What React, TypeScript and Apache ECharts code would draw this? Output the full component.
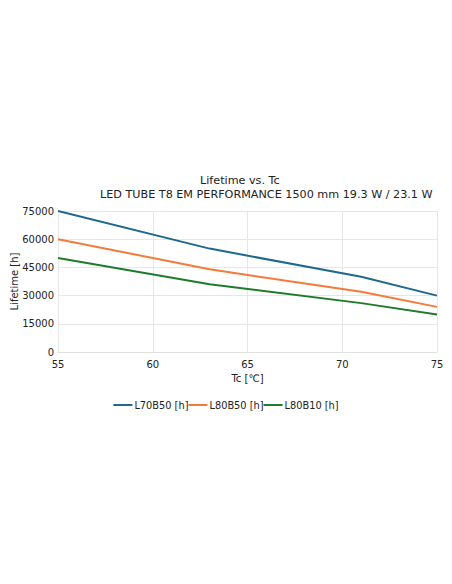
import React, { useEffect, useRef } from 'react';
import * as echarts from 'echarts';

const TC_VALUES = [55, 63, 71, 75];
const L70B50 = [75000, 55000, 40000, 30000];
const L80B50 = [60000, 44000, 32000, 24000];
const L80B10 = [50000, 36000, 26000, 20000];
const SERIES_NAMES = ['L70B50 [h]', 'L80B50 [h]', 'L80B10 [h]'];
const COLORS = ['#1f6a8c', '#f47a3a', '#1f7a2c'];

const FONT = 'DejaVu Sans';

export default function App() {
  const chartRef = useRef<HTMLDivElement>(null);

  useEffect(() => {
    document.body.style.margin = '0';
    if (!chartRef.current) return;
    const chart = echarts.init(chartRef.current, undefined, { renderer: 'svg' });

    const allSeries = [L70B50, L80B50, L80B10];

    chart.setOption({
      animation: false,
      textStyle: { fontFamily: FONT },
      title: [
        {
          text: 'Lifetime vs. Tc',
          left: 195,
          top: 170,
          textStyle: { fontFamily: FONT, fontSize: 11.2, fontWeight: 'normal', color: '#222' },
        },
        {
          text: 'LED TUBE T8 EM PERFORMANCE 1500 mm 19.3 W / 23.1 W',
          left: 95,
          top: 184,
          textStyle: { fontFamily: FONT, fontSize: 11.2, fontWeight: 'normal', color: '#222' },
        },
      ],
      legend: {
        top: 395,
        left: 'center',
        itemGap: 0,
        itemWidth: 19,
        itemHeight: 2,
        icon: 'rect',
        textStyle: { fontFamily: FONT, fontSize: 9.8, color: '#222', padding: [0, 0, 0, -3] },
        data: SERIES_NAMES,
      },
      grid: { left: 58, right: 15, top: 211, bottom: 232, outerBoundsMode: 'none' },
      xAxis: {
        type: 'value',
        min: 55,
        max: 75,
        interval: 5,
        name: 'Tc [℃]',
        nameLocation: 'middle',
        nameGap: 21,
        nameMoveOverlap: false,
        nameTextStyle: { fontFamily: FONT, fontSize: 10, color: '#222' },
        axisLine: { show: true, lineStyle: { color: '#e0e0e0' } },
        axisTick: { show: false },
        axisLabel: { fontFamily: FONT, fontSize: 10, color: '#222', margin: 7 },
        splitLine: { show: true, lineStyle: { color: '#e6e6e6' } },
      },
      yAxis: {
        type: 'value',
        min: 0,
        max: 75000,
        interval: 15000,
        name: 'Lifetime [h]',
        nameLocation: 'middle',
        nameGap: 39,
        nameMoveOverlap: false,
        nameTextStyle: { fontFamily: FONT, fontSize: 10, color: '#222' },
        axisLine: { show: false },
        axisTick: { show: false },
        axisLabel: {
          fontFamily: FONT,
          fontSize: 10,
          color: '#222',
          margin: 4,
          formatter: (v: number) => String(v),
        },
        splitLine: { show: true, lineStyle: { color: '#e6e6e6' } },
      },
      series: SERIES_NAMES.map((name, i) => ({
        name,
        type: 'line',
        showSymbol: false,
        symbol: 'none',
        color: COLORS[i],
        lineStyle: { width: 2, color: COLORS[i] },
        data: TC_VALUES.map((x, j) => [x, allSeries[i][j]]),
      })),
    });

    return () => {
      chart.dispose();
    };
  }, []);

  return <div ref={chartRef} style={{ width: 452, height: 584 }} />;
}
